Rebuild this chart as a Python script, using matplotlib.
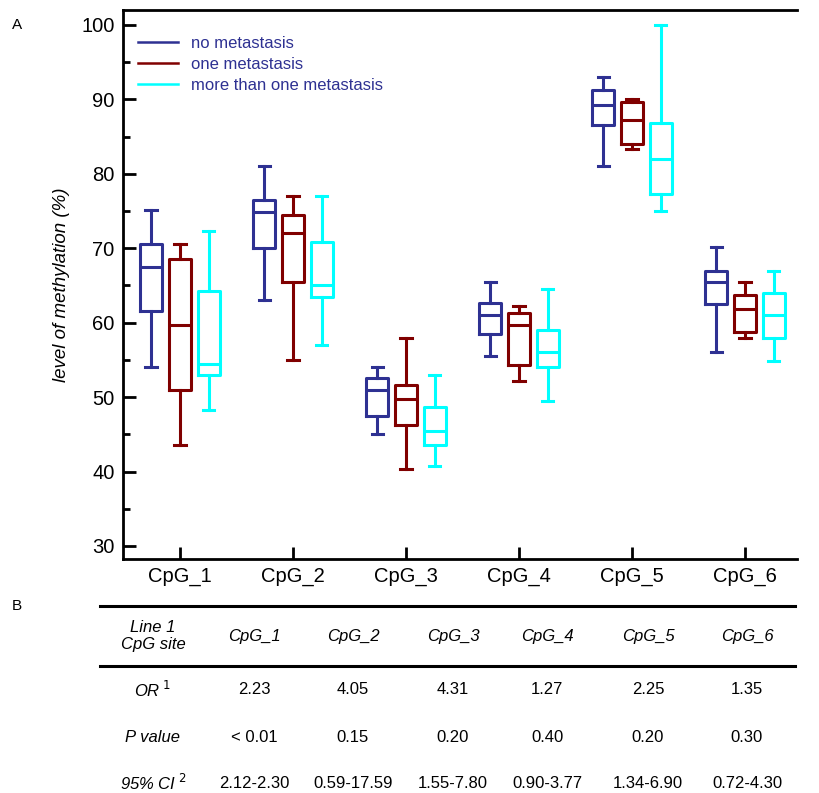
import matplotlib.pyplot as plt
from matplotlib.lines import Line2D

plt.rcParams['font.family'] = ['Liberation Sans', 'DejaVu Sans']

sites = ['CpG_1', 'CpG_2', 'CpG_3', 'CpG_4', 'CpG_5', 'CpG_6']
groups = ['no metastasis', 'one metastasis', 'more than one metastasis']
colors = ['#2e3192', '#800000', '#00ffff']

# (whislo, q1, med, q3, whishi) per site
no_met = [(54, 61.5, 67.5, 70.5, 75.2), (63, 70, 74.8, 76.5, 81), (45, 47.5, 51, 52.5, 54),
          (55.5, 58.5, 61, 62.7, 65.5), (81, 86.5, 89.3, 91.2, 93), (56, 62.5, 65.5, 67, 70.2)]
one_met = [(43.5, 51, 59.7, 68.5, 70.5), (55, 65.5, 72, 74.5, 77), (40.3, 46.3, 49.8, 51.6, 58),
           (52.2, 54.3, 59.7, 61.3, 62.2), (83.3, 84, 87.2, 89.7, 90), (58, 58.7, 61.8, 63.7, 65.5)]
more_met = [(48.3, 53, 54.5, 64.3, 72.3), (57, 63.5, 65, 70.8, 77), (40.8, 43.5, 45.5, 48.7, 53),
            (49.5, 54, 56, 59, 64.5), (75, 77.3, 82, 86.8, 100), (54.8, 58, 61, 64, 67)]
series = [no_met, one_met, more_met]

odds_ratio = ['2.23', '4.05', '4.31', '1.27', '2.25', '1.35']
p_values = ['< 0.01', '0.15', '0.20', '0.40', '0.20', '0.30']
conf_int = ['2.12-2.30', '0.59-17.59', '1.55-7.80', '0.90-3.77', '1.34-6.90', '0.72-4.30']

fig = plt.figure(figsize=(8.2, 7.93), dpi=100)
ax = fig.add_axes([123 / 820, 1 - 559 / 793, (797 - 123) / 820, (559 - 10) / 793])

offsets = [-0.255, 0, 0.255]
for data, col, off in zip(series, colors, offsets):
    stats = [dict(whislo=d[0], q1=d[1], med=d[2], q3=d[3], whishi=d[4], fliers=[]) for d in data]
    pos = [i + 1 + off for i in range(len(sites))]
    ax.bxp(stats, positions=pos, widths=0.19, showcaps=True,
           boxprops=dict(color=col, lw=2.2), medianprops=dict(color=col, lw=2.2),
           whiskerprops=dict(color=col, lw=2.2), capprops=dict(color=col, lw=2.2),
           capwidths=0.1, manage_ticks=False)

ax.set_xlim(0.496, 6.46)
ax.set_ylim(28.25, 102)
ax.set_xticks(range(1, 7))
ax.set_xticklabels(sites, fontsize=13.5)
ax.set_yticks(range(30, 101, 10))
ax.set_yticks(range(35, 100, 10), minor=True)
ax.tick_params(axis='both', direction='in', width=2, length=9, labelsize=14.5, pad=6)
ax.tick_params(axis='y', which='minor', direction='in', width=2, length=5)
ax.spines['right'].set_visible(False)
for sp in ['left', 'bottom', 'top']:
    ax.spines[sp].set_linewidth(2)
ax.set_ylabel('level of methylation (%)', fontsize=13.5, style='italic', labelpad=8)

handles = [Line2D([0], [0], color=c, lw=1.8) for c in colors]
leg = ax.legend(handles, groups, loc='upper left', bbox_to_anchor=(0.0, 0.98), frameon=False,
                fontsize=12, handlelength=2.4, labelspacing=0.35, handletextpad=0.8)
for t in leg.get_texts():
    t.set_color('#2e3192')

fig.text(12 / 820, 1 - 25 / 793, 'A', fontsize=11, va='center')
fig.text(12 / 820, 1 - 606 / 793, 'B', fontsize=11, va='center')

# table
fig.add_artist(Line2D([100 / 820, 795 / 820], [1 - 606 / 793] * 2, color='black', lw=2.2))
fig.add_artist(Line2D([100 / 820, 795 / 820], [1 - 666 / 793] * 2, color='black', lw=2.2))
col_x = [153, 254, 353, 453, 547, 648, 747]
fam = ['Liberation Sans Narrow', 'Liberation Sans', 'DejaVu Sans']
kw = dict(ha='center', va='center', fontsize=12, family=fam)
fig.text(col_x[0] / 820, 1 - 636 / 793, 'Line 1\nCpG site', style='italic', linespacing=1.1, **kw)
for x, s in zip(col_x[1:], sites):
    fig.text(x / 820, 1 - 636 / 793, s, style='italic', **kw)
row_y = [690, 737, 783]
row_tex = ['OR$^{\\ 1}$', 'P value', '95% CI$^{\\ 2}$']
for y, lab, vals in zip(row_y, row_tex, [odds_ratio, p_values, conf_int]):
    fig.text(col_x[0] / 820, 1 - y / 793, lab, style='italic', **kw)
    for x, v in zip(col_x[1:], vals):
        fig.text(x / 820, 1 - y / 793, v, **kw)

fig.savefig('out.png', dpi=100)
